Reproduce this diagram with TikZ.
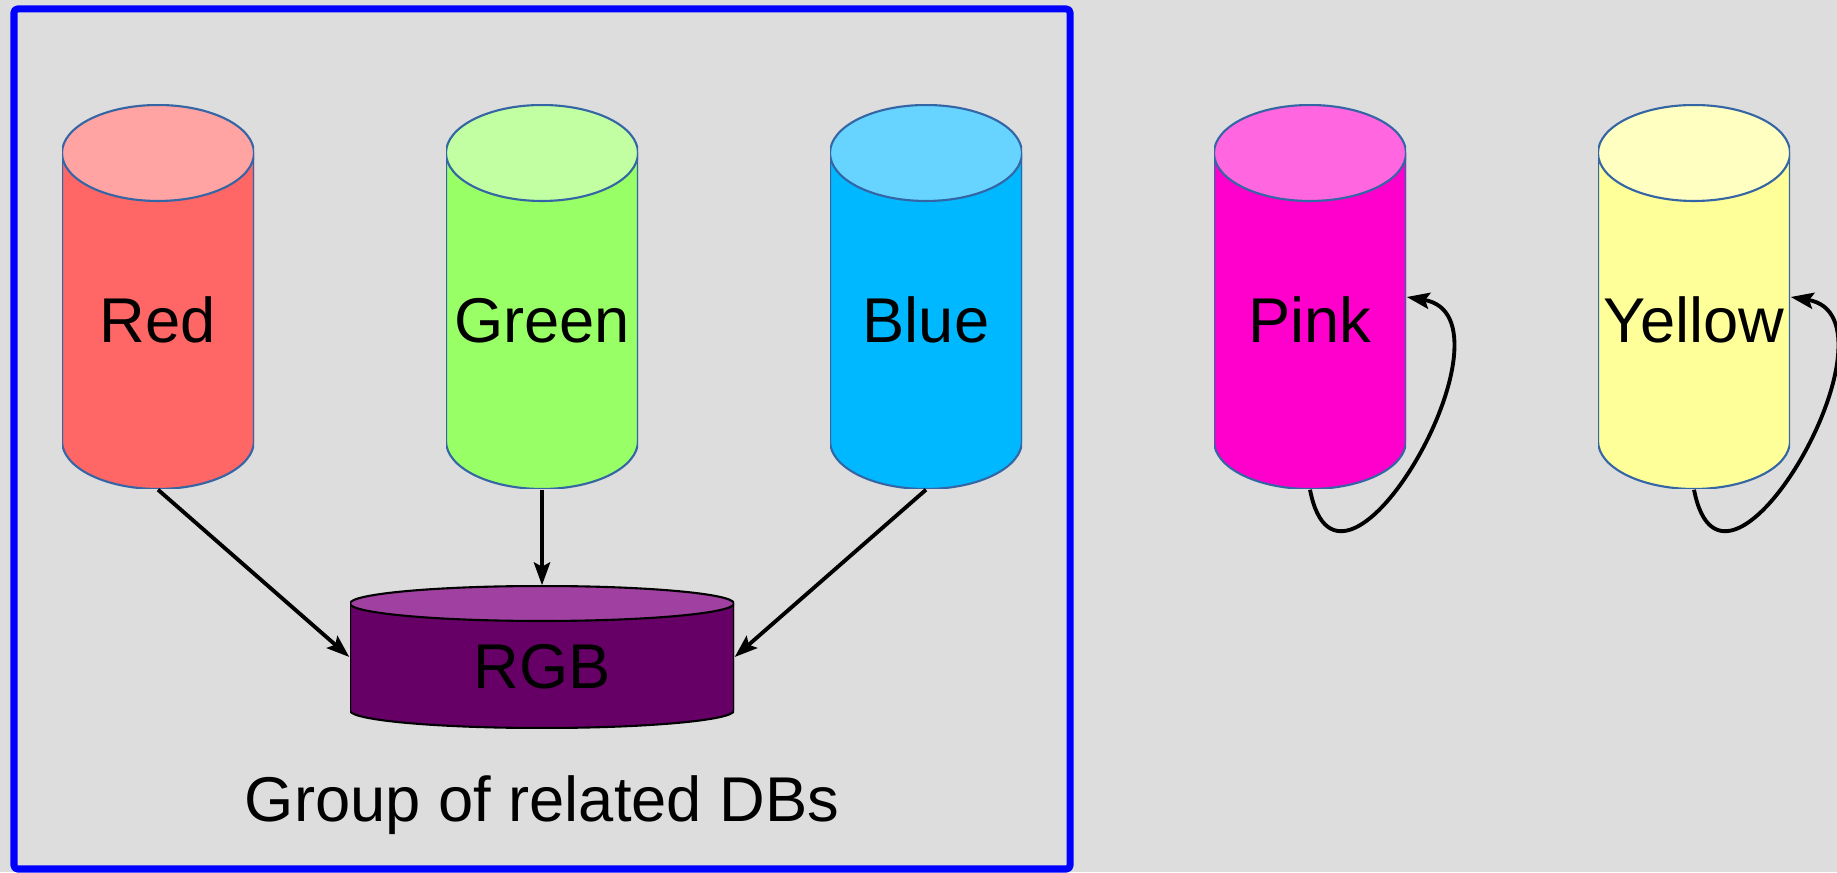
\documentclass[tikz,border=0pt]{standalone}
\usepackage{fontspec}
\setmainfont{Liberation Sans}
\usetikzlibrary{arrows.meta}
\definecolor{bgcol}{HTML}{DDDDDD}
\definecolor{dbedge}{HTML}{3465A4}
\definecolor{redbody}{HTML}{FF6666}
\definecolor{redtop}{HTML}{FFA3A3}
\definecolor{greenbody}{HTML}{99FF66}
\definecolor{greentop}{HTML}{C2FFA3}
\definecolor{bluebody}{HTML}{00B8FF}
\definecolor{bluetop}{HTML}{66D4FF}
\definecolor{pinkbody}{HTML}{FF00CC}
\definecolor{pinktop}{HTML}{FF66E0}
\definecolor{yellowbody}{HTML}{FFFF99}
\definecolor{yellowtop}{HTML}{FFFFC2}
\definecolor{rgbbody}{HTML}{660066}
\definecolor{rgbtop}{HTML}{A040A0}
\begin{document}
\begin{tikzpicture}[font=\fontsize{18}{22}\selectfont, line join=round, >={Stealth[length=6.5pt,width=4.6pt,inset=1.2pt]},
	db/.style 2 args={minimum width=1.92cm, minimum height=3.84cm, inner sep=0pt, text height=0.92cm, text depth=0pt,
		path picture={
			\filldraw[fill=#1, draw=dbedge, line width=0.6pt] ([yshift=-0.48cm]path picture bounding box.north west) -- ([yshift=0.48cm]path picture bounding box.south west) arc[start angle=180, end angle=360, x radius=0.96cm, y radius=0.48cm] -- ([yshift=-0.48cm]path picture bounding box.north east) -- cycle;
			\filldraw[fill=#2, draw=dbedge, line width=0.6pt] ([yshift=-0.48cm]path picture bounding box.north) ellipse[x radius=0.96cm, y radius=0.48cm];
		}},
	dbflat/.style 2 args={minimum width=3.84cm, minimum height=1.42cm, inner sep=0pt, text height=0.62cm, text depth=0pt,
		path picture={
			\filldraw[fill=#1, draw=black, line width=0.6pt] ([yshift=-0.175cm]path picture bounding box.north west) -- ([yshift=0.175cm]path picture bounding box.south west) arc[start angle=180, end angle=360, x radius=1.92cm, y radius=0.175cm] -- ([yshift=-0.175cm]path picture bounding box.north east) -- cycle;
			\filldraw[fill=#2, draw=black, line width=0.6pt] ([yshift=-0.175cm]path picture bounding box.north) ellipse[x radius=1.92cm, y radius=0.175cm];
		}},
	link/.style={->, line width=1.1pt}]
		\fill[bgcol] (0,0) rectangle (18.37,8.72);
		\useasboundingbox (0,0) rectangle (18.37,8.72);
		\draw[blue, line width=2pt, rounded corners=1pt] (0.14,0.03) rectangle (10.70,8.63);
		% the databases
		\node[db={redbody}{redtop}] (red) at (1.58,5.75) {Red};
		\node[db={greenbody}{greentop}] (green) at (5.42,5.75) {Green};
		\node[db={bluebody}{bluetop}] (blue) at (9.26,5.75) {Blue};
		\node[db={pinkbody}{pinktop}] (pink) at (13.10,5.75) {Pink};
		\node[db={yellowbody}{yellowtop}] (yellow) at (16.94,5.75) {Yellow};
		\node[dbflat={rgbbody}{rgbtop}] (rgb) at (5.42,2.15) {RGB};
		\node[anchor=base] (group) at (5.42,0.51) {Group of related DBs};
		% links
		\draw[link] (red.south) -- (rgb.west);
		\draw[link] (green.south) -- (rgb.north);
		\draw[link] (blue.south) -- (rgb.east);
		\draw[link] (pink.south) .. controls +(0.3,-1.55) and +(1.2,-0.2) .. (pink.east);
		\draw[link] (yellow.south) .. controls +(0.3,-1.55) and +(1.2,-0.2) .. (yellow.east);
\end{tikzpicture}
\end{document}
